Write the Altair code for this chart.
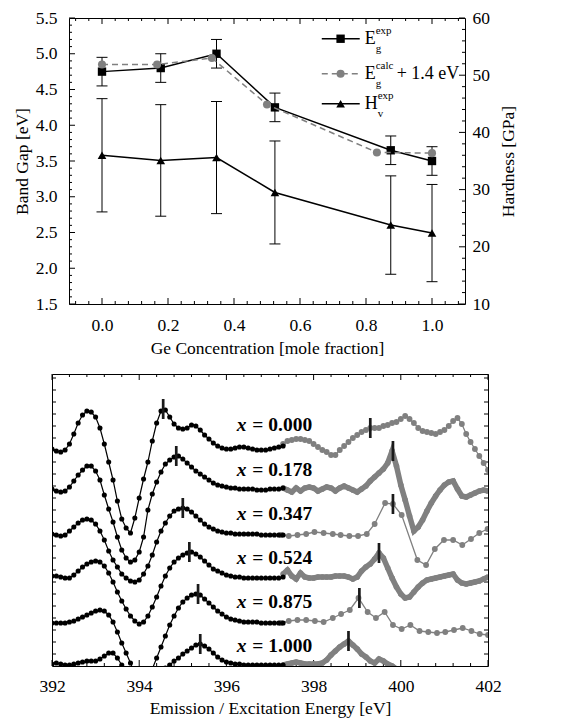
import altair as alt
import pandas as pd

FONT = "Liberation Serif, Times New Roman, serif"
BLACK = "#000000"
GREY = "#808080"

# ---------------- top panel data ----------------
GE_X = [0.0, 0.178, 0.347, 0.524, 0.875, 1.0]
EG_EXP = [4.75, 4.80, 5.00, 4.25, 3.65, 3.50]
EG_ERR = [0.20, 0.20, 0.20, 0.20, 0.20, 0.20]
HV_EXP = [36.0, 35.1, 35.6, 29.5, 23.8, 22.4]
HV_ERR = [9.9, 9.75, 9.8, 9.0, 8.6, 8.5]
CALC_X = [0.0, 0.167, 0.333, 0.5, 0.833, 1.0]
EG_CALC = [4.85, 4.85, 4.94, 4.29, 3.62, 3.61]

TOP_X_MAJOR = [0.0, 0.2, 0.4, 0.6, 0.8, 1.0]
TOP_X_MINOR = [-0.08, -0.04, 0.04, 0.08, 0.12, 0.16, 0.24, 0.28, 0.32, 0.36,
               0.44, 0.48, 0.52, 0.56, 0.64, 0.68, 0.72, 0.76, 0.84, 0.88,
               0.92, 0.96, 1.04, 1.08]
GAP_MAJOR = [1.5, 2.0, 2.5, 3.0, 3.5, 4.0, 4.5, 5.0, 5.5]
GAP_MINOR = [round(1.5 + 0.1 * i, 1) for i in range(41) if i % 5]
HARD_MAJOR = [10, 20, 30, 40, 50, 60]
HARD_MINOR = [v for v in range(10, 61, 2) if v % 10]

# legend (top panel, data coordinates)
LEG_Y = [5.21, 4.72, 4.30]
LEG_X0, LEG_X1, LEG_XM, LEG_XT = 0.666, 0.781, 0.723, 0.796

# ---------------- bottom panel data ----------------
E_BLACK = [392.0, 392.1, 392.2, 392.3, 392.4, 392.5, 392.6, 392.7, 392.8, 392.9,
           393.0, 393.1, 393.2, 393.3, 393.4, 393.5, 393.6, 393.7, 393.8, 393.9,
           394.0, 394.1, 394.2, 394.3, 394.4, 394.5, 394.6, 394.7, 394.8, 394.9,
           395.0, 395.1, 395.2, 395.3, 395.4, 395.5, 395.6, 395.7, 395.8, 395.9,
           396.0, 396.1, 396.2, 396.3, 396.4, 396.5, 396.6, 396.7, 396.8, 396.9,
           397.0, 397.1, 397.2, 397.3]
B000 = [217, 215, 214, 216, 222, 232, 243, 251, 255, 254,
        249, 238, 222, 204, 186, 165, 147, 138, 133, 148,
        168, 187, 204, 225, 243, 255, 256, 249, 242, 238,
        237, 238, 241, 240, 236, 231, 227, 223, 220, 218,
        217, 217, 218, 219, 219, 218, 217, 216, 216, 216,
        217, 218, 219, 220]
B178 = [177, 175, 174, 175, 179, 185, 191, 196, 200, 200,
        195, 186, 171, 157, 144, 129, 116, 108, 104, 106,
        114, 129, 156, 172, 184, 194, 202, 206, 209, 210,
        207, 203, 199, 195, 192, 189, 186, 183, 181, 180,
        179, 178, 178, 177, 177, 177, 177, 176, 176, 176,
        177, 177, 177, 178]
B347 = [132, 131, 130, 131, 135, 139, 143, 146, 147, 146,
        142, 135, 126, 115, 106, 99, 92, 88, 85, 84,
        86, 92, 100, 111, 124, 135, 143, 150, 155, 157,
        158, 157, 154, 150, 146, 142, 139, 137, 135, 134,
        133, 133, 132, 132, 132, 132, 132, 132, 131, 131,
        131, 131, 131, 131]
B524 = [90, 90, 89, 88, 88, 91, 95, 99, 102, 104,
        105, 104, 100, 93, 84, 74, 65, 57, 50, 45,
        42, 44, 50, 59, 69, 80, 90, 98, 104, 108,
        111, 113, 114, 112, 109, 105, 101, 97, 95, 93,
        91, 90, 89, 89, 88, 88, 88, 88, 88, 88,
        88, 88, 88, 89]
B875 = [43, 43, 43, 43, 44, 45, 47, 49, 51, 53,
        55, 56, 55, 51, 44, 34, 23, 13, 3, -8,
        -16, -19, -14, -3, 8, 19, 30, 41, 50, 58,
        64, 68, 71, 72, 71, 67, 63, 59, 55, 52,
        49, 47, 46, 45, 44, 44, 44, 44, 43, 43,
        43, 43, 43, 43]
B100 = [2, 3, 2, 1, 1, 2, 3, 4, 5, 5,
        5, 7, 10, 13, 13, 8, 1, -7, -14, -20,
        -24, -25, -23, -18, -12, -7, -2, 1, 5, 8,
        12, 15, 18, 21, 22, 20, 17, 13, 9, 6,
        4, 3, 2, 2, 1, 1, 1, 1, 1, 1,
        1, 1, 1, 1]

E_GREY = [397.3, 397.4, 397.5, 397.6, 397.7, 397.8, 397.9, 398.0, 398.1, 398.2,
          398.3, 398.4, 398.5, 398.6, 398.7, 398.8, 398.9, 399.0, 399.1, 399.2,
          399.3, 399.4, 399.5, 399.6, 399.7, 399.8, 399.9, 400.0, 400.1, 400.2,
          400.3, 400.4, 400.5, 400.6, 400.7, 400.8, 400.9, 401.0, 401.1, 401.2,
          401.3, 401.4, 401.5, 401.6, 401.7, 401.8, 401.9, 402.0]
G000 = [222, 225, 226, 227, 227, 226, 225, 222, 219, 216,
        214, 211, 211, 216, 220, 224, 228, 231, 234, 236,
        238, 238, 238, 240, 241, 243, 244, 247, 250, 247,
        243, 238, 235, 234, 233, 232, 234, 236, 240, 245,
        248, 242, 232, 224, 217, 210, 203, 196]
G178 = [178, 176, 174, 178, 175, 178, 179, 178, 175, 177,
        179, 178, 175, 178, 180, 178, 176, 174, 177, 180,
        185, 189, 193, 197, 203, 215, 200, 181, 166, 150,
        135, 139, 146, 155, 163, 170, 176, 181, 184, 185,
        177, 170, 169, 171, 173, 175, 176, 175]
G524 = [92, 96, 90, 87, 93, 89, 88, 88, 89, 89,
        89, 89, 90, 90, 90, 89, 87, 89, 95, 99,
        102, 107, 113, 108, 98, 88, 79, 72, 68, 69,
        74, 79, 83, 86, 87, 88, 89, 90, 91, 92,
        86, 83, 82, 83, 84, 85, 87, 89]
E_G100 = E_GREY[:27]
G100 = [1, 2, 3, 4, 3, 2, 2, 2, 2, 3,
        6, 11, 15, 19, 22, 25, 21, 17, 12, 9,
        5, 3, 7, 5, 2, 0, -3]
E_G347 = [397.25, 397.43, 397.63, 397.83, 398.02, 398.23, 398.44, 398.62, 398.82, 399.02,
          399.22, 399.4, 399.64, 399.82, 400.02, 400.38, 400.58, 400.78, 400.99, 401.2,
          401.41, 401.61, 401.8, 401.99]
G347 = [131, 130, 131, 132, 134, 133, 132, 131, 130, 130,
        132, 142, 163, 162, 151, 106, 101, 117, 126, 126,
        121, 127, 133, 137]
E_G875 = [397.25, 397.43, 397.63, 397.83, 398.03, 398.23, 398.44, 398.63, 398.83, 399.03,
          399.24, 399.43, 399.63, 399.82, 400.02, 400.22, 400.43, 400.63, 400.83, 401.02,
          401.22, 401.42, 401.62, 401.81, 402.0]
G875 = [43, 45, 46, 46, 45, 44, 48, 52, 56, 68,
        54, 48, 54, 41, 37, 41, 35, 34, 33, 34,
        36, 38, 35, 32, 31]

PEAK_E = [394.55, 399.3, 394.85, 399.82, 395.0, 399.82, 395.15, 399.5, 395.35, 399.05, 395.4, 398.8]
PEAK_I = [257, 238, 210, 215, 158, 162, 114, 113, 72, 68, 22, 25]

LABEL_TEXT = ["0.000", "0.178", "0.347", "0.524", "0.875", "1.000"]
LABEL_I = [241, 196, 152, 108, 64, 20]
LABEL_E = [396.24] * 6

BX_MAJOR = [392, 394, 396, 398, 400, 402]
BX_MINOR = [round(392 + 0.4 * i, 1) for i in range(26) if i % 5]
BY_TICKS = list(range(12, 292, 12))

TOP_W, TOP_H = 396, 286
BOT_W, BOT_H = 436, 292
FS = 17.5

# ---------------- helpers ----------------
LAB = dict(labels=True, labelFont=FONT, labelFontSize=FS, labelColor=BLACK,
           labelFlush=False, titleFont=FONT, titleFontSize=FS,
           titleFontWeight="normal", titleColor=BLACK,
           ticks=False, tickSize=0, domain=False, grid=False)


def yticks(values, scale, side, size, width):
    df = pd.DataFrame({"v": values})
    pos = size / 2 if side == "left" else width - size / 2
    return alt.Chart(df).mark_tick(orient="horizontal", size=size, thickness=1,
                                   color=BLACK, opacity=1).encode(
        y=alt.Y("v:Q", scale=scale, axis=None), x=alt.value(pos))


def xticks(values, scale, side, size, height):
    df = pd.DataFrame({"v": values})
    pos = size / 2 if side == "top" else height - size / 2
    return alt.Chart(df).mark_tick(orient="vertical", size=size, thickness=1,
                                   color=BLACK, opacity=1).encode(
        x=alt.X("v:Q", scale=scale, axis=None), y=alt.value(pos))


# ---------------- top panel ----------------
xs = alt.Scale(domain=[-0.1, 1.1], nice=False, zero=False)
ys_gap = alt.Scale(domain=[1.5, 5.5], nice=False, zero=False)
ys_h = alt.Scale(domain=[10, 60], nice=False, zero=False)

top_df = pd.DataFrame({"ge": GE_X, "eg": EG_EXP, "eg_err": EG_ERR,
                       "hv": HV_EXP, "hv_err": HV_ERR})
calc_df = pd.DataFrame({"ge": CALC_X, "eg": EG_CALC})

X = lambda f="ge": alt.X(f"{f}:Q", scale=xs, axis=None)
YG = lambda f="eg": alt.Y(f"{f}:Q", scale=ys_gap, axis=None)
YH = lambda f="hv": alt.Y(f"{f}:Q", scale=ys_h, axis=None)

top_axes = [
    alt.Chart(top_df).mark_point(opacity=0).encode(
        x=alt.X("ge:Q", scale=xs, axis=alt.Axis(
            orient="bottom", values=TOP_X_MAJOR, format=".1f", labelPadding=12,
            title="Ge Concentration [mole fraction]", titlePadding=6, **LAB)),
        y=alt.Y("eg:Q", scale=ys_gap, axis=alt.Axis(
            orient="left", values=GAP_MAJOR, format=".1f", labelPadding=12,
            title="Band Gap [eV]", titlePadding=4, **LAB))),
    alt.Chart(top_df).mark_point(opacity=0).encode(
        x=X(),
        y=alt.Y("hv:Q", scale=ys_h, axis=alt.Axis(
            orient="right", values=HARD_MAJOR, format="d", labelPadding=7,
            title="Hardness [GPa]", titlePadding=10, titleAngle=270,
            titleBaseline="top", **LAB))),
    yticks(GAP_MAJOR, ys_gap, "left", 6, TOP_W),
    yticks(GAP_MINOR, ys_gap, "left", 3, TOP_W),
    yticks(HARD_MAJOR, ys_h, "right", 6, TOP_W),
    yticks(HARD_MINOR, ys_h, "right", 3, TOP_W),
    xticks(TOP_X_MAJOR, xs, "bottom", 6, TOP_H),
    xticks(TOP_X_MINOR, xs, "bottom", 3, TOP_H),
    xticks(TOP_X_MAJOR, xs, "top", 6, TOP_H),
    xticks(TOP_X_MINOR, xs, "top", 3, TOP_H),
]

eg_base = alt.Chart(top_df).transform_calculate(
    lo="datum.eg - datum.eg_err", hi="datum.eg + datum.eg_err")
hv_base = alt.Chart(top_df).transform_calculate(
    lo="datum.hv - datum.hv_err", hi="datum.hv + datum.hv_err")


def cap(base, yenc):
    return base.mark_tick(orient="horizontal", size=11, thickness=1,
                          color=BLACK, opacity=1).encode(x=X(), y=yenc)


top_data = [
    eg_base.mark_rule(color=BLACK, strokeWidth=1).encode(x=X(), y=YG("lo"), y2="hi:Q"),
    cap(eg_base, YG("lo")), cap(eg_base, YG("hi")),
    hv_base.mark_rule(color=BLACK, strokeWidth=1).encode(x=X(), y=YH("lo"), y2="hi:Q"),
    cap(hv_base, YH("lo")), cap(hv_base, YH("hi")),
    alt.Chart(top_df).mark_line(color=BLACK, strokeWidth=1.5).encode(x=X(), y=YG()),
    alt.Chart(top_df).mark_line(color=BLACK, strokeWidth=1.5).encode(x=X(), y=YH()),
    alt.Chart(top_df).mark_point(shape="square", filled=True, size=70, color=BLACK, opacity=1).encode(x=X(), y=YG()),
    alt.Chart(top_df).mark_point(shape="triangle-up", filled=True, size=75, color=BLACK, opacity=1).encode(x=X(), y=YH()),
    alt.Chart(calc_df).mark_line(color=GREY, strokeWidth=1.5, strokeDash=[6, 4]).encode(x=X(), y=YG()),
    alt.Chart(calc_df).mark_point(shape="circle", filled=True, size=65, color=GREY, opacity=1).encode(x=X(), y=YG()),
]

# legend
leg_df = pd.DataFrame({"x0": [LEG_X0] * 3, "x1": [LEG_X1] * 3, "xm": [LEG_XM] * 3,
                       "xt": [LEG_XT] * 3, "y": LEG_Y,
                       "main": ["E", "E", "H"], "sup": ["exp", "calc", "exp"],
                       "sub": ["g", "g", "v"], "row": [1, 2, 3]})
leg = alt.Chart(leg_df)
r1, r2, r3 = "datum.row == 1", "datum.row == 2", "datum.row == 3"
r12 = "datum.row != 3"
r13 = "datum.row != 2"


def ltext(flt, size, dx, dy, field=None, text=None):
    kw = dict(font=FONT, fontSize=size, align="left", baseline="middle",
              dx=dx, dy=dy, color=BLACK)
    if text is not None:
        kw["text"] = text
    enc = dict(x=X("xt"), y=YG("y"))
    if field is not None:
        enc["text"] = f"{field}:N"
    c = leg
    if flt is not None:
        c = c.transform_filter(flt)
    return c.mark_text(**kw).encode(**enc)


legend_layers = [
    leg.transform_filter(r13).mark_rule(color=BLACK, strokeWidth=1.5).encode(x=X("x0"), x2="x1:Q", y=YG("y")),
    leg.transform_filter(r2).mark_rule(color=GREY, strokeWidth=1.5, strokeDash=[6, 4]).encode(x=X("x0"), x2="x1:Q", y=YG("y")),
    leg.transform_filter(r1).mark_point(shape="square", filled=True, size=70, color=BLACK, opacity=1).encode(x=X("xm"), y=YG("y")),
    leg.transform_filter(r2).mark_point(shape="circle", filled=True, size=65, color=GREY, opacity=1).encode(x=X("xm"), y=YG("y")),
    leg.transform_filter(r3).mark_point(shape="triangle-up", filled=True, size=75, color=BLACK, opacity=1).encode(x=X("xm"), y=YG("y")),
    ltext(None, 18, 0, 0, field="main"),
    ltext(r12, 11, 11, -8, field="sup"),
    ltext(r12, 11, 11, 10, field="sub"),
    ltext(r3, 11, 13, -8, field="sup"),
    ltext(r3, 11, 13, 10, field="sub"),
    ltext(r2, 18, 32, 0, text="+ 1.4 eV"),
]

top = alt.layer(*top_axes, *top_data, *legend_layers).resolve_scale(
    x="independent", y="independent"
).properties(width=TOP_W, height=TOP_H,
             view=alt.ViewBackground(stroke=BLACK, strokeWidth=1))

# ---------------- bottom panel ----------------
bx = alt.Scale(domain=[392, 402], nice=False, zero=False)
by = alt.Scale(domain=[0, 292], nice=False, zero=False)


def frame(E, I, spec):
    return pd.DataFrame({"E": E, "I": I, "spec": spec})


black_df = pd.concat([frame(E_BLACK, B000, "0.000"), frame(E_BLACK, B178, "0.178"),
                      frame(E_BLACK, B347, "0.347"), frame(E_BLACK, B524, "0.524"),
                      frame(E_BLACK, B875, "0.875"), frame(E_BLACK, B100, "1.000")])
grey_thin_df = pd.concat([frame(E_GREY, G000, "0.000"), frame(E_G347, G347, "0.347"),
                          frame(E_G875, G875, "0.875")])
grey_thick_df = pd.concat([frame(E_GREY, G178, "0.178"), frame(E_GREY, G524, "0.524"),
                           frame(E_G100, G100, "1.000")])
peak_df = pd.DataFrame({"E": PEAK_E, "I": PEAK_I})
lab_df = pd.DataFrame({"E": LABEL_E, "I": LABEL_I, "txt": ["= " + t for t in LABEL_TEXT]})

BXe = lambda: alt.X("E:Q", scale=bx, axis=None)
BYe = lambda: alt.Y("I:Q", scale=by, axis=None)

bottom_axes = [
    alt.Chart(peak_df).mark_point(opacity=0).encode(
        x=alt.X("E:Q", scale=bx, axis=alt.Axis(
            orient="bottom", values=BX_MAJOR, format="d", labelPadding=11,
            title="Emission / Excitation Energy [eV]", titlePadding=5, **LAB)),
        y=BYe()),
    xticks(BX_MAJOR, bx, "bottom", 6, BOT_H),
    xticks(BX_MINOR, bx, "bottom", 3, BOT_H),
    xticks(BX_MAJOR, bx, "top", 6, BOT_H),
    xticks(BX_MINOR, bx, "top", 3, BOT_H),
    yticks(BY_TICKS, by, "left", 4, BOT_W),
    yticks(BY_TICKS, by, "right", 4, BOT_W),
]

bottom_data = [
    alt.Chart(grey_thick_df).mark_line(color=GREY, strokeWidth=5.5, clip=True).encode(x=BXe(), y=BYe(), detail="spec:N"),
    alt.Chart(grey_thick_df).mark_circle(color=GREY, size=32, opacity=1, clip=True).encode(x=BXe(), y=BYe()),
    alt.Chart(grey_thin_df).mark_line(color=GREY, strokeWidth=1.3, clip=True).encode(x=BXe(), y=BYe(), detail="spec:N"),
    alt.Chart(grey_thin_df).mark_circle(color=GREY, size=34, opacity=1, clip=True).encode(x=BXe(), y=BYe()),
    alt.Chart(black_df).mark_line(color=BLACK, strokeWidth=1.2, clip=True).encode(x=BXe(), y=BYe(), detail="spec:N"),
    alt.Chart(black_df).mark_circle(color=BLACK, size=26, opacity=1, clip=True).encode(x=BXe(), y=BYe()),
    alt.Chart(peak_df).mark_tick(orient="vertical", size=20, thickness=2.7, color="#1a1a1a", opacity=1).encode(x=BXe(), y=BYe()),
    alt.Chart(lab_df).mark_text(text="x", font=FONT, fontSize=19.5, fontWeight="bold", fontStyle="italic",
                                align="left", baseline="middle", color=BLACK).encode(x=BXe(), y=BYe()),
    alt.Chart(lab_df).mark_text(font=FONT, fontSize=19.5, fontWeight="bold", align="left",
                                baseline="middle", dx=15.5, color=BLACK).encode(x=BXe(), y=BYe(), text="txt:N"),
]

bottom = alt.layer(*bottom_axes, *bottom_data).resolve_scale(
    x="independent", y="independent"
).properties(width=BOT_W, height=BOT_H,
             view=alt.ViewBackground(stroke=BLACK, strokeWidth=1))

spacer = alt.Chart(pd.DataFrame({"a": [0]})).mark_point(opacity=0).encode(
    x=alt.X("a:Q", axis=None), y=alt.Y("a:Q", axis=None)
).properties(width=17, height=TOP_H, view=alt.ViewBackground(stroke="transparent"))

top_row = alt.hconcat(spacer, top, spacing=0, bounds="flush")

chart = alt.vconcat(top_row, bottom, spacing=15).properties(
    padding={"left": 4, "top": 0, "right": 0, "bottom": 0}
).configure(font=FONT).configure_view(stroke="transparent")

chart.save("out.html", embed_options={"renderer": "svg", "actions": False})
